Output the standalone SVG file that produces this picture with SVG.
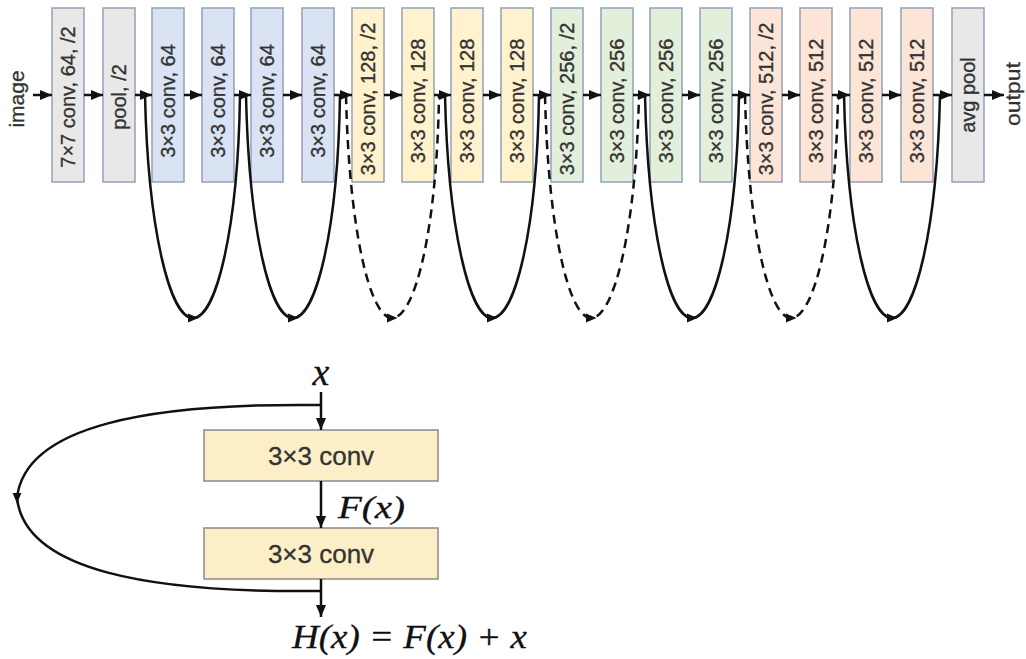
<svg xmlns="http://www.w3.org/2000/svg" width="1026" height="659" viewBox="0 0 1026 659">
<style>
.box{stroke:#95a0b8;stroke-width:1.5}
.gray{fill:#e8e8e8}
.blue{fill:#dae3f3}
.yel{fill:#fff2cc}
.grn{fill:#e2efda}
.org{fill:#fce4d6}
.lbl{font-family:"Liberation Sans",Arial,sans-serif;font-size:20px;fill:#333;stroke:#333;stroke-width:0.35;text-anchor:middle}
.side{font-family:"Liberation Sans",Arial,sans-serif;font-size:21px;fill:#333;stroke:#333;stroke-width:0.3;text-anchor:middle}
.flow{stroke:#111;stroke-width:2.5;fill:none;marker-end:url(#ah)}
.skip{stroke:#111;stroke-width:2.5;fill:none;marker-mid:url(#mh)}
.dash{stroke-dasharray:9 6}
.bbox{fill:#fcefc8;stroke:#8a8a8a;stroke-width:1.5}
.btxt{font-family:"Liberation Sans",Arial,sans-serif;font-size:26px;fill:#333;stroke:#333;stroke-width:0.3;text-anchor:middle}
.math{font-family:"Liberation Serif","Times New Roman",serif;font-style:italic;fill:#111;stroke:#111;stroke-width:0.3}
</style>
<defs>
<marker id="ah" markerUnits="userSpaceOnUse" markerWidth="12" markerHeight="12" viewBox="0 0 10 10" refX="10" refY="5" orient="auto">
<path d="M0,0.8 L10,5 L0,9.2 Z" fill="#111"/>
</marker>
<marker id="mh" markerUnits="userSpaceOnUse" markerWidth="11" markerHeight="11" viewBox="0 0 10 10" refX="5" refY="5" orient="auto">
<path d="M0,0.8 L10,5 L0,9.2 Z" fill="#111"/>
</marker>
</defs>

<g id="label-image"><text class="side" transform="translate(24,99) rotate(-90)">image</text></g>
<g id="label-output"><text class="side" transform="translate(1020,94) rotate(-90)" textLength="64" lengthAdjust="spacingAndGlyphs">output</text></g>

<g id="n1"><rect class="box gray" x="52" y="8" width="32" height="174"/><text class="lbl" transform="translate(75,97) rotate(-90)">7×7 conv, 64, /2</text></g>
<g id="n2"><rect class="box gray" x="103" y="8" width="32" height="174"/><text class="lbl" transform="translate(126,97) rotate(-90)">pool, /2</text></g>
<g id="n3"><rect class="box blue" x="152" y="8" width="32" height="174"/><text class="lbl" transform="translate(175,101) rotate(-90)">3×3 conv, 64</text></g>
<g id="n4"><rect class="box blue" x="202" y="8" width="32" height="174"/><text class="lbl" transform="translate(225,101) rotate(-90)">3×3 conv, 64</text></g>
<g id="n5"><rect class="box blue" x="251" y="8" width="32" height="174"/><text class="lbl" transform="translate(274,101) rotate(-90)">3×3 conv, 64</text></g>
<g id="n6"><rect class="box blue" x="302" y="8" width="32" height="174"/><text class="lbl" transform="translate(325,101) rotate(-90)">3×3 conv, 64</text></g>
<g id="n7"><rect class="box yel" x="352" y="8" width="32" height="174"/><text class="lbl" transform="translate(375,99) rotate(-90)">3×3 conv, 128, /2</text></g>
<g id="n8"><rect class="box yel" x="402" y="8" width="32" height="174"/><text class="lbl" transform="translate(425,101) rotate(-90)">3×3 conv, 128</text></g>
<g id="n9"><rect class="box yel" x="451" y="8" width="32" height="174"/><text class="lbl" transform="translate(474,101) rotate(-90)">3×3 conv, 128</text></g>
<g id="n10"><rect class="box yel" x="501" y="8" width="32" height="174"/><text class="lbl" transform="translate(524,101) rotate(-90)">3×3 conv, 128</text></g>
<g id="n11"><rect class="box grn" x="551" y="8" width="32" height="174"/><text class="lbl" transform="translate(574,99) rotate(-90)">3×3 conv, 256, /2</text></g>
<g id="n12"><rect class="box grn" x="601" y="8" width="32" height="174"/><text class="lbl" transform="translate(624,101) rotate(-90)">3×3 conv, 256</text></g>
<g id="n13"><rect class="box grn" x="650" y="8" width="32" height="174"/><text class="lbl" transform="translate(673,101) rotate(-90)">3×3 conv, 256</text></g>
<g id="n14"><rect class="box grn" x="700" y="8" width="32" height="174"/><text class="lbl" transform="translate(723,101) rotate(-90)">3×3 conv, 256</text></g>
<g id="n15"><rect class="box org" x="750" y="8" width="32" height="174"/><text class="lbl" transform="translate(773,99) rotate(-90)">3×3 conv, 512, /2</text></g>
<g id="n16"><rect class="box org" x="800" y="8" width="32" height="174"/><text class="lbl" transform="translate(823,101) rotate(-90)">3×3 conv, 512</text></g>
<g id="n17"><rect class="box org" x="850" y="8" width="32" height="174"/><text class="lbl" transform="translate(873,101) rotate(-90)">3×3 conv, 512</text></g>
<g id="n18"><rect class="box org" x="901" y="8" width="32" height="174"/><text class="lbl" transform="translate(924,101) rotate(-90)">3×3 conv, 512</text></g>
<g id="n19"><rect class="box gray" x="952" y="8" width="32" height="174"/><text class="lbl" transform="translate(975,95) rotate(-90)">avg pool</text></g>

<g id="b1"><rect class="bbox" x="204" y="430" width="234" height="51"/><text class="btxt" x="321" y="465">3×3 conv</text></g>
<g id="b2"><rect class="bbox" x="204" y="528" width="234" height="51"/><text class="btxt" x="321" y="563">3×3 conv</text></g>
<g id="math-labels">
<text class="math" x="321" y="385" font-size="38" text-anchor="middle">x</text>
<text class="math" x="338" y="518" font-size="32" textLength="67" lengthAdjust="spacingAndGlyphs">F(x)</text>
<text class="math" x="292" y="648" font-size="34" textLength="235" lengthAdjust="spacingAndGlyphs">H(x) = F(x) + x</text>
</g>

<g id="connectors">
<path class="flow" d="M33,95 H52"/>
<path class="flow" d="M84,95 H103"/>
<path class="flow" d="M135,95 H152"/>
<path class="flow" d="M184,95 H202"/>
<path class="flow" d="M234,95 H251"/>
<path class="flow" d="M283,95 H302"/>
<path class="flow" d="M334,95 H352"/>
<path class="flow" d="M384,95 H402"/>
<path class="flow" d="M434,95 H451"/>
<path class="flow" d="M483,95 H501"/>
<path class="flow" d="M533,95 H551"/>
<path class="flow" d="M583,95 H601"/>
<path class="flow" d="M633,95 H650"/>
<path class="flow" d="M682,95 H700"/>
<path class="flow" d="M732,95 H750"/>
<path class="flow" d="M782,95 H800"/>
<path class="flow" d="M832,95 H850"/>
<path class="flow" d="M882,95 H901"/>
<path class="flow" d="M933,95 H952"/>
<path class="flow" d="M984,95 H1004"/>

<path class="skip" d="M145,95 C148,230 170,318 193,318 C216,318 238,230 240,95"/>
<path class="skip" d="M246,95 C249,230 270,318 293,318 C316,318 338,230 340,95"/>
<path class="skip dash" d="M346,95 C349,230 370,318 392,318 C415,318 437,230 439,95"/>
<path class="skip" d="M445,95 C448,230 470,318 492,318 C515,318 537,230 539,95"/>
<path class="skip dash" d="M545,95 C548,230 569,318 591,318 C614,318 636,230 639,95"/>
<path class="skip" d="M645,95 C648,230 669,318 692,318 C715,318 737,230 739,95"/>
<path class="skip dash" d="M745,95 C748,230 769,318 791,318 C814,318 836,230 838,95"/>
<path class="skip" d="M844,95 C847,230 869,318 892,318 C915,318 937,230 940,95"/>

<path class="flow" d="M321,392 V430"/>
<path class="flow" d="M321,481 V528"/>
<path class="flow" d="M321,579 V617"/>
<path class="skip" d="M321,405 C150,403 25,425 17,498 C25,571 150,593 321,591"/>
</g>
</svg>
